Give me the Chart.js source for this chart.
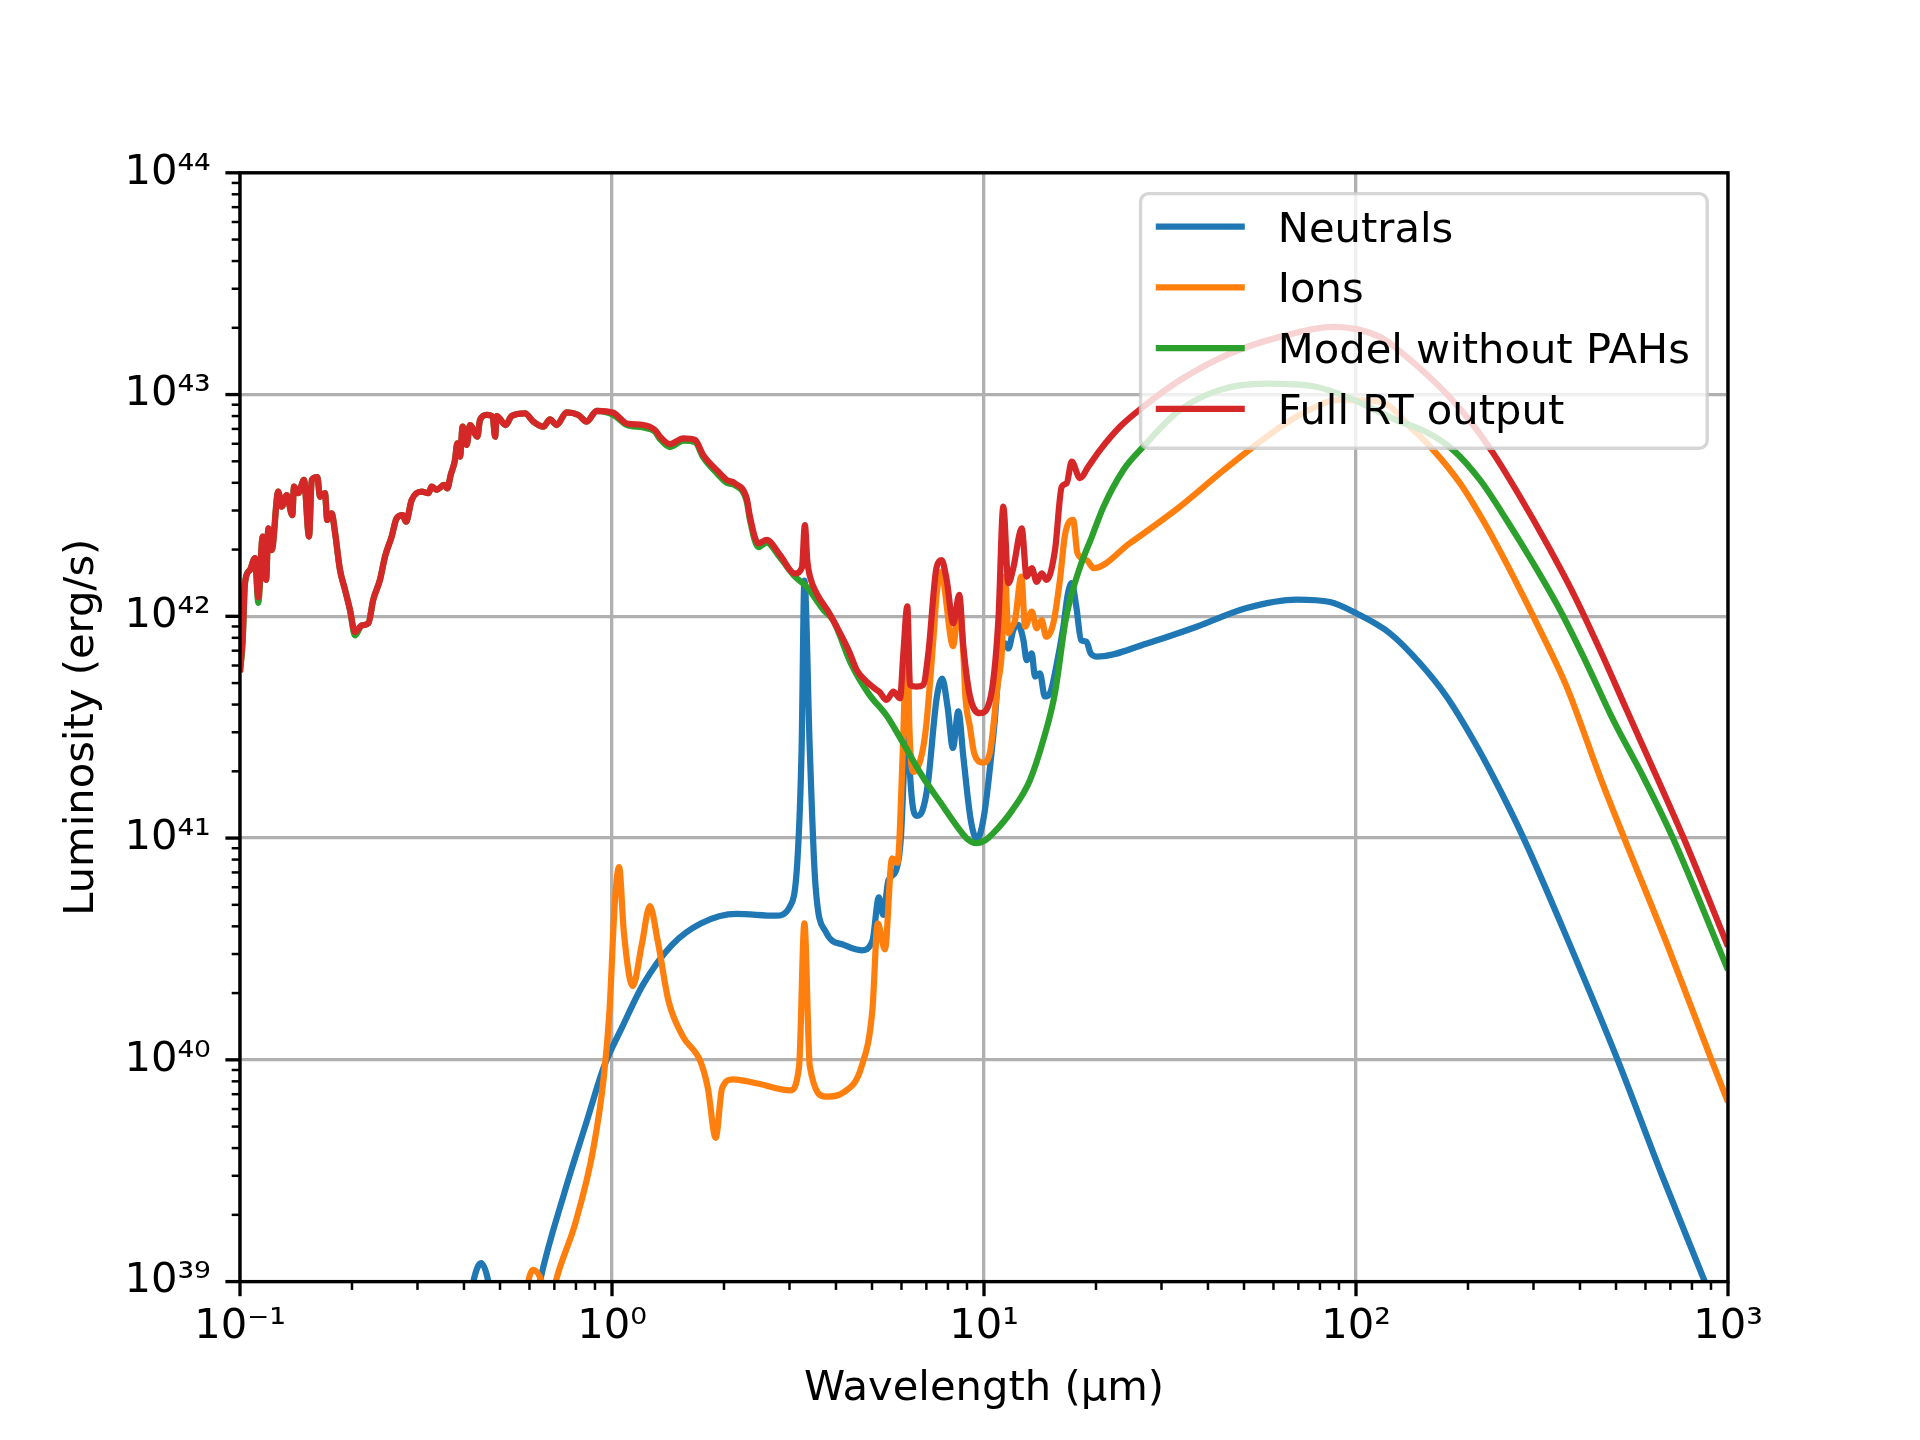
<!DOCTYPE html>
<html>
<head>
<meta charset="utf-8">
<script src="https://cdn.jsdelivr.net/npm/chart.js@4.4.1/dist/chart.umd.min.js"></script>
<style>
  body { margin: 0; background: #fff; }
  canvas { display: block; }
</style>
</head>
<body>
<canvas id="sed" width="1920" height="1440"></canvas>
<script>
// wavelength in micron, luminosity in erg/s
const neutralsWl = [0.38, 0.424, 0.4445, 0.465, 0.5, 0.58, 0.64, 0.746, 0.853, 0.952, 1.064, 1.215, 1.45, 1.732, 2.161, 2.757, 3.012, 3.148, 3.233, 3.29,
  3.402, 3.516, 3.758, 4.198, 4.688, 5.012, 5.216, 5.357, 5.536, 5.788, 5.98, 6.12, 6.2, 6.32, 6.465, 6.6, 6.83, 7.06, 7.46, 7.72,
  7.98, 8.25, 8.53, 8.81, 9.21, 9.57, 10, 10.64, 11.12, 11.39, 11.63, 11.99, 12.37, 12.76, 13.02, 13.44, 13.71, 14.14, 14.57, 15.04,
  15.7, 16.33, 16.8, 17.21, 17.7, 18.24, 18.85, 19.36, 20.2, 27.4, 37.3, 50.8, 69.2, 85.1, 100.4, 123.4, 148.6, 175.3, 206.7, 233.9,
  282.1, 377.6, 505, 661.4, 866.4, 1000];
const neutralsLum = [3e38, 1.0e39, 1.21e39, 1.0e39, 4e38, 4e38, 1.0e39, 2.54e39, 5.21e39, 9.35e39, 1.4e40, 2.2e40, 3.3e40, 4.12e40, 4.55e40, 4.47e40, 4.93e40, 7.74e40, 2.49e41, 1.45e42,
  2.49e41, 6.46e40, 3.77e40, 3.3e40, 3.12e40, 3.44e40, 5.4e40, 4.51e40, 6.46e40, 7.08e40, 1.01e41, 2.5e41, 4.3e41, 2.0e41, 1.33e41, 1.26e41, 1.33e41, 1.74e41, 4.27e41, 5.24e41,
  3.91e41, 2.55e41, 3.73e41, 2.28e41, 1.21e41, 9.9e40, 1.26e41, 3.12e41, 7.2e41, 7.55e41, 7.16e41, 8.67e41, 9.14e41, 7.82e41, 6.35e41, 6.8e41, 5.35e41, 5.53e41, 4.35e41, 4.5e41,
  6.14e41, 8.91e41, 1.26e42, 1.41e42, 1.11e42, 7.82e41, 7.69e41, 6.8e41, 6.58e41, 7.55e41, 8.98e41, 1.09e42, 1.19e42, 1.16e42, 1.03e42, 8.38e41, 6.14e41, 4.34e41, 2.77e41, 1.89e41,
  1.0e41, 3.24e40, 1.0e40, 3.08e39, 1.0e39, 5.5e38];

const ionsWl = [0.56, 0.596, 0.612, 0.647, 0.675, 0.706, 0.798, 0.891, 0.952, 0.985, 1.018, 1.045, 1.076, 1.137, 1.202, 1.264, 1.327, 1.419, 1.549, 1.732,
  1.81, 1.9, 1.977, 2.113, 2.466, 3.012, 3.184, 3.29, 3.402, 3.758, 4.198, 4.688, 5.012, 5.18, 5.416, 5.66, 5.85, 6.05, 6.15, 6.22,
  6.3, 6.465, 6.76, 6.98, 7.3, 7.46, 7.695, 7.937, 8.1, 8.25, 8.58, 8.8, 8.91, 9.17, 9.42, 9.95, 10.4, 10.88, 11.16, 11.39,
  11.63, 11.9, 12.12, 12.6, 12.9, 13.44, 13.86, 14.29, 14.69, 15.36, 16, 16.51, 17.36, 17.84, 18.9, 19.7, 24.7, 33.6, 43.1, 53,
  69.2, 90.6, 116, 142.6, 161.4, 190.4, 224.4, 264.8, 312.4, 368.3, 452.9, 526, 689.8, 902.8, 1000];
const ionsLum = [4e38, 1.0e39, 1.13e39, 1.0e39, 7e38, 1.0e39, 1.85e39, 3.98e39, 8.55e39, 1.68e40, 5.16e40, 7.4e40, 3.77e40, 2.15e40, 3.3e40, 4.93e40, 3.44e40, 1.84e40, 1.28e40, 9.77e39,
  7.46e39, 4.45e39, 7.46e39, 8.17e39, 7.82e39, 7.29e39, 9.35e39, 4.12e40, 9.35e39, 6.82e39, 7.14e39, 9.35e39, 1.68e40, 4.12e40, 3.15e40, 8.09e40, 7.74e40, 2.49e41, 6.0e41, 9.5e41,
  3.2e41, 1.99e41, 2.28e41, 3.12e41, 7.67e41, 1.26e42, 1.59e42, 1.12e42, 8.4e41, 7.33e41, 1.14e42, 6.8e41, 4.37e41, 3.16e41, 2.4e41, 2.19e41, 2.49e41, 4.9e41, 6.8e41, 1.51e42,
  8.4e41, 8.98e41, 9.62e41, 1.51e42, 8.98e41, 1.05e42, 8.83e41, 9.62e41, 8.09e41, 9.31e41, 1.46e42, 2.33e42, 2.72e42, 1.92e42, 1.79e42, 1.65e42, 2.14e42, 3.12e42, 4.42e42, 5.82e42,
  7.94e42, 9.46e42, 9.29e42, 6.92e42, 5.62e42, 3.98e42, 2.54e42, 1.51e42, 8.67e41, 4.82e41, 1.89e41, 1.0e41, 3.24e40, 1.0e40, 6.44e39];

const noPahWl = [0.1, 0.1017, 0.1031, 0.1064, 0.1097, 0.112, 0.1151, 0.1175, 0.1192, 0.1217, 0.1267, 0.1294, 0.1335, 0.1382, 0.1397, 0.1434, 0.1486, 0.1533, 0.1559, 0.1614,
  0.1641, 0.1692, 0.1716, 0.1764, 0.18, 0.1857, 0.1915, 0.1975, 0.2037, 0.2125, 0.2213, 0.2282, 0.2378, 0.2454, 0.2557, 0.2637, 0.2737, 0.2795, 0.2893, 0.3078,
  0.3209, 0.3276, 0.338, 0.3535, 0.3608, 0.3685, 0.3784, 0.3838, 0.3903, 0.3968, 0.4068, 0.4152, 0.4345, 0.4418, 0.4604, 0.478, 0.4849, 0.49, 0.5178, 0.5374,
  0.5836, 0.6145, 0.6535, 0.6813, 0.71, 0.7553, 0.8121, 0.8551, 0.9097, 1.008, 1.095, 1.214, 1.305, 1.346, 1.432, 1.555, 1.672, 1.76, 1.931, 2.034,
  2.141, 2.302, 2.349, 2.474, 2.605, 2.829, 3.104, 3.337, 3.7, 3.93, 4.39, 4.9, 5.47, 6.12, 6.83, 7.63, 8.53, 8.98, 9.53, 10.1,
  10.64, 11.89, 13.28, 14.51, 15.5, 16.57, 17, 18.1, 19.5, 20.9, 23.7, 26.8, 33.6, 43.1, 57.5, 76.8, 94.4, 128.5, 154.9, 182.6,
  215.4, 254, 299.8, 353.2, 416.7, 491.7, 591.6, 711, 1000];
const noPahLum = [5.6e41, 7.7e41, 1.41e42, 1.62e42, 1.83e42, 1.15e42, 2.29e42, 1.46e42, 2.49e42, 1.99e42, 3.65e42, 3.12e42, 3.52e42, 2.86e42, 3.84e42, 3.59e42, 4.12e42, 2.29e42, 4.12e42, 4.24e42,
  3.46e42, 3.59e42, 2.72e42, 2.91e42, 2.4e42, 1.62e42, 1.32e42, 1.07e42, 8.2e41, 9.1e41, 9.3e41, 1.19e42, 1.46e42, 1.86e42, 2.29e42, 2.77e42, 2.86e42, 2.67e42, 3.34e42, 3.65e42,
  3.59e42, 3.84e42, 3.72e42, 3.91e42, 3.78e42, 4.34e42, 5.07e42, 6.03e42, 5.25e42, 7.16e42, 5.93e42, 7.29e42, 6.46e42, 7.67e42, 8.09e42, 7.94e42, 6.46e42, 8.0e42, 7.29e42, 8.0e42,
  8.22e42, 7.55e42, 7.16e42, 7.73e42, 7.29e42, 8.32e42, 8.09e42, 7.55e42, 8.45e42, 8.1e42, 7.3e42, 7.1e42, 6.8e42, 6.3e42, 5.8e42, 6.2e42, 6.1e42, 5.2e42, 4.35e42, 4.0e42,
  3.9e42, 3.3e42, 2.72e42, 2.05e42, 2.15e42, 1.84e42, 1.51e42, 1.36e42, 1.07e42, 9.6e41, 6.12e41, 4.47e41, 3.57e41, 2.61e41, 1.9e41, 1.45e41, 1.11e41, 9.98e40, 9.49e40, 9.8e40,
  1.06e41, 1.33e41, 1.82e41, 2.85e41, 4.47e41, 9.6e41, 1.17e42, 1.66e42, 2.29e42, 3.09e42, 4.57e42, 5.82e42, 8.51e42, 1.05e43, 1.12e43, 1.09e43, 9.77e42, 7.67e42, 6.76e42, 5.62e42,
  4.12e42, 2.72e42, 1.73e42, 1.07e42, 6.14e41, 3.4e41, 1.89e41, 1.0e41, 2.54e40];

const fullWl = [0.1, 0.1017, 0.1031, 0.1064, 0.1097, 0.112, 0.1151, 0.1175, 0.1192, 0.1217, 0.1267, 0.1294, 0.1335, 0.1382, 0.1397, 0.1434, 0.1486, 0.1533, 0.1559, 0.1614,
  0.1641, 0.1692, 0.1716, 0.1764, 0.18, 0.1857, 0.1915, 0.1975, 0.2037, 0.2125, 0.2213, 0.2282, 0.2378, 0.2454, 0.2557, 0.2637, 0.2737, 0.2795, 0.2893, 0.3078,
  0.3209, 0.3276, 0.338, 0.3535, 0.3608, 0.3685, 0.3784, 0.3838, 0.3903, 0.3968, 0.4068, 0.4152, 0.4345, 0.4418, 0.4604, 0.478, 0.4849, 0.49, 0.5178, 0.5374,
  0.5836, 0.6145, 0.6535, 0.6813, 0.71, 0.7553, 0.8121, 0.8551, 0.9097, 1.008, 1.095, 1.214, 1.305, 1.346, 1.432, 1.555, 1.672, 1.76, 1.931, 2.034,
  2.141, 2.302, 2.349, 2.474, 2.605, 2.829, 3.104, 3.24, 3.3, 3.35, 3.406, 3.549, 3.815, 4.102, 4.363, 4.547, 4.837, 5.146, 5.23, 5.474,
  5.705, 5.945, 6.07, 6.221, 6.325, 6.59, 6.86, 7.085, 7.46, 7.695, 7.937, 8.27, 8.58, 8.8, 9.17, 9.755, 10.38, 10.93, 11.27, 11.63,
  11.99, 12.63, 13.02, 13.44, 13.86, 14.29, 14.74, 15.52, 16.18, 16.68, 17.21, 18.11, 19.07, 20.5, 23.2, 26.8, 33.6, 45.8, 62.5, 86.9,
  116, 136.8, 168.2, 198.4, 233.9, 276, 325.6, 383.7, 452.9, 534.2, 643, 760, 1000];
const fullLum = [5.6e41, 8.1e41, 1.41e42, 1.62e42, 1.83e42, 1.22e42, 2.29e42, 1.46e42, 2.49e42, 1.99e42, 3.65e42, 3.12e42, 3.52e42, 2.86e42, 3.84e42, 3.59e42, 4.12e42, 2.29e42, 4.12e42, 4.24e42,
  3.46e42, 3.59e42, 2.72e42, 2.91e42, 2.4e42, 1.62e42, 1.32e42, 1.07e42, 8.5e41, 9.1e41, 9.3e41, 1.19e42, 1.46e42, 1.86e42, 2.29e42, 2.77e42, 2.86e42, 2.67e42, 3.34e42, 3.65e42,
  3.59e42, 3.84e42, 3.72e42, 3.91e42, 3.78e42, 4.34e42, 5.07e42, 6.03e42, 5.25e42, 7.16e42, 5.93e42, 7.29e42, 6.46e42, 7.67e42, 8.09e42, 7.94e42, 6.46e42, 8.0e42, 7.29e42, 8.0e42,
  8.22e42, 7.55e42, 7.16e42, 7.73e42, 7.29e42, 8.32e42, 8.09e42, 7.55e42, 8.45e42, 8.28e42, 7.41e42, 7.29e42, 6.92e42, 6.46e42, 5.98e42, 6.35e42, 6.24e42, 5.33e42, 4.49e42, 4.12e42,
  3.98e42, 3.4e42, 2.81e42, 2.13e42, 2.21e42, 1.89e42, 1.56e42, 1.66e42, 2.58e42, 1.78e42, 1.51e42, 1.27e42, 1.05e42, 8.4e41, 6.8e41, 5.73e41, 5.07e41, 4.66e41, 4.57e41, 4.2e41,
  4.57e41, 4.27e41, 6.8e41, 1.11e42, 4.9e41, 4.82e41, 4.9e41, 6.8e41, 1.67e42, 1.79e42, 1.46e42, 9.3e41, 1.25e42, 7.3e41, 4.35e41, 3.66e41, 4.2e41, 9.6e41, 3.12e42, 1.41e42,
  1.65e42, 2.49e42, 1.51e42, 1.65e42, 1.43e42, 1.56e42, 1.46e42, 1.99e42, 3.84e42, 3.98e42, 4.98e42, 4.2e42, 4.73e42, 5.62e42, 7.16e42, 8.81e42, 1.16e43, 1.53e43, 1.82e43, 2.02e43,
  1.82e43, 1.48e43, 1.08e43, 7.94e42, 5.43e42, 3.46e42, 2.13e42, 1.27e42, 7.05e41, 3.78e41, 1.89e41, 1.0e41, 3.24e40];

const seriesNames = ['Neutrals', 'Ions', 'Model without PAHs', 'Full RT output'];
const seriesColors = ['#1f77b4', '#ff7f0e', '#2ca02c', '#d62728'];

const xTickValues = [0.1, 1, 10, 100, 1000];
const xTickLabels = ['10⁻¹', '10⁰', '10¹', '10²', '10³'];
const yTickValues = [1e39, 1e40, 1e41, 1e42, 1e43, 1e44];
const yTickLabels = ['10³⁹', '10⁴⁰', '10⁴¹', '10⁴²', '10⁴³', '10⁴⁴'];

const FS = 41.67;   // 10 pt at 300 dpi
const LW = 6.25;    // 1.5 pt line
const SPINE = 3.33;

Chart.defaults.font.family = '"DejaVu Sans"';
Chart.defaults.color = '#000';

function toPoints(wl, lum) {
  return wl.map((w, i) => ({x: w, y: lum[i]}));
}

function majorIndex(v, majors) {
  for (let i = 0; i < majors.length; i++) {
    if (Math.abs(Math.log10(v) - Math.log10(majors[i])) < 1e-6) return i;
  }
  return -1;
}

// majors plus 2..9 minors in each decade
function logTicks(majors) {
  const t = [];
  for (let i = 0; i < majors.length; i++) {
    t.push({value: majors[i], major: true});
    if (i < majors.length - 1) {
      for (let m = 2; m <= 9; m++) t.push({value: majors[i] * m, major: false});
    }
  }
  return t;
}

const frameAndTicks = {
  id: 'frameAndTicks',
  afterDatasetsDraw(chart) {
    const {ctx, chartArea: a, scales} = chart;
    ctx.save();
    ctx.strokeStyle = '#000';
    scales.x.ticks.forEach(t => {
      const px = scales.x.getPixelForValue(t.value);
      const major = majorIndex(t.value, xTickValues) >= 0;
      ctx.lineWidth = major ? SPINE : 2.5;
      ctx.beginPath();
      ctx.moveTo(px, a.bottom);
      ctx.lineTo(px, a.bottom + (major ? 14.6 : 8.3));
      ctx.stroke();
    });
    scales.y.ticks.forEach(t => {
      const py = scales.y.getPixelForValue(t.value);
      const major = majorIndex(t.value, yTickValues) >= 0;
      ctx.lineWidth = major ? SPINE : 2.5;
      ctx.beginPath();
      ctx.moveTo(a.left, py);
      ctx.lineTo(a.left - (major ? 14.6 : 8.3), py);
      ctx.stroke();
    });
    ctx.lineWidth = SPINE;
    ctx.strokeRect(a.left, a.top, a.right - a.left, a.bottom - a.top);
    ctx.restore();
  }
};

const boxLegend = {
  id: 'boxLegend',
  afterDraw(chart) {
    const {ctx, chartArea: a} = chart;
    const sets = chart.data.datasets;
    ctx.save();
    ctx.font = FS + 'px "DejaVu Sans"';
    const textW = Math.max(...sets.map(d => ctx.measureText(d.label).width));
    const right = a.right - 20.8;
    const top = a.top + 20.8;
    const left = right - (15.2 + 89 + 33 + textW + 17.3);
    const height = 254.7;
    ctx.beginPath();
    ctx.roundRect(left, top, right - left, height, 8);
    ctx.fillStyle = 'rgba(255,255,255,0.8)';
    ctx.fill();
    ctx.lineWidth = 3.4;
    ctx.strokeStyle = 'rgba(204,204,204,0.8)';
    ctx.stroke();
    sets.forEach((d, i) => {
      const y = top + 33.1 + i * 60.7;
      ctx.strokeStyle = d.borderColor;
      ctx.lineWidth = LW;
      ctx.beginPath();
      ctx.moveTo(left + 15.2, y);
      ctx.lineTo(left + 15.2 + 89, y);
      ctx.stroke();
      ctx.fillStyle = '#000';
      ctx.textBaseline = 'alphabetic';
      ctx.fillText(d.label, left + 15.2 + 89 + 33, y + 15);
    });
    ctx.restore();
  }
};

const seriesData = [
  toPoints(neutralsWl, neutralsLum),
  toPoints(ionsWl, ionsLum),
  toPoints(noPahWl, noPahLum),
  toPoints(fullWl, fullLum)
];

new Chart(document.getElementById('sed'), {
  type: 'scatter',
  data: {
    datasets: seriesData.map((pts, i) => ({
      label: seriesNames[i],
      data: pts,
      showLine: true,
      borderColor: seriesColors[i],
      backgroundColor: seriesColors[i],
      borderWidth: LW,
      pointRadius: 0,
      cubicInterpolationMode: 'monotone',
      borderJoinStyle: 'round',
      clip: 0,
      order: seriesData.length - i
    }))
  },
  options: {
    responsive: false,
    devicePixelRatio: 1,
    animation: false,
    events: [],
    layout: {padding: {top: 172.8, right: 192, left: 0, bottom: 0}},
    plugins: {legend: {display: false}, tooltip: {enabled: false}},
    scales: {
      x: {
        type: 'logarithmic',
        position: 'bottom',
        min: 0.1,
        max: 1000,
        afterBuildTicks: s => { s.ticks = logTicks(xTickValues); },
        afterFit: s => { s.height = 158.4; },
        ticks: {
          autoSkip: false,
          maxRotation: 0,
          padding: 21,
          font: {size: FS},
          callback: v => { const k = majorIndex(v, xTickValues); return k >= 0 ? xTickLabels[k] : ''; }
        },
        grid: {
          drawTicks: false,
          lineWidth: SPINE,
          color: c => (c.tick && majorIndex(c.tick.value, xTickValues) >= 0) ? '#b0b0b0' : 'rgba(0,0,0,0)'
        },
        border: {display: false},
        title: {display: true, text: 'Wavelength (μm)', font: {size: FS}, padding: {top: 0, bottom: 25.5}}
      },
      y: {
        type: 'logarithmic',
        position: 'left',
        min: 1e39,
        max: 1e44,
        afterBuildTicks: s => { s.ticks = logTicks(yTickValues); },
        afterFit: s => { s.width = 240; },
        ticks: {
          autoSkip: false,
          padding: 29.2,
          font: {size: FS},
          callback: v => { const k = majorIndex(v, yTickValues); return k >= 0 ? yTickLabels[k] : ''; }
        },
        grid: {
          drawTicks: false,
          lineWidth: SPINE,
          color: c => (c.tick && majorIndex(c.tick.value, yTickValues) >= 0) ? '#b0b0b0' : 'rgba(0,0,0,0)'
        },
        border: {display: false},
        title: {display: true, text: 'Luminosity (erg/s)', font: {size: FS}, padding: {top: 57, bottom: 0}}
      }
    }
  },
  plugins: [frameAndTicks, boxLegend]
});
</script>
</body>
</html>
